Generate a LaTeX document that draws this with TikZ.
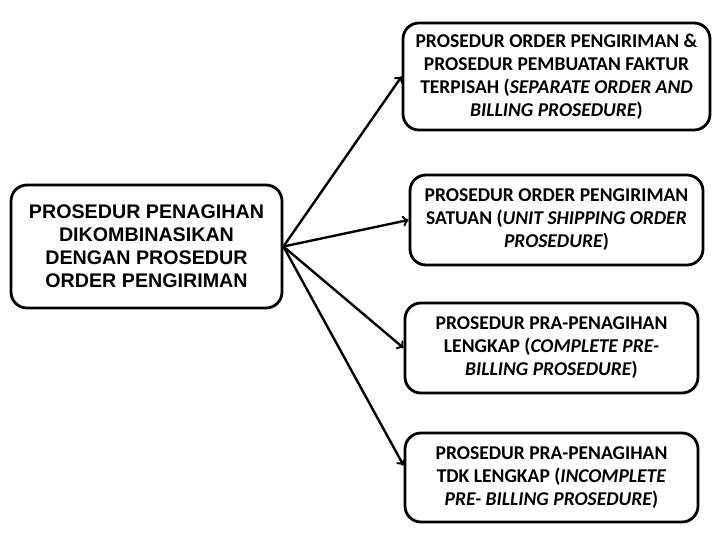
\documentclass[tikz,border=0pt]{standalone}
\usepackage{fontspec}
\setmainfont{Carlito}
\newfontfamily\arialfont{Liberation Sans}
\usetikzlibrary{positioning,arrows}

\tikzset{
	procbox/.style={draw, line width=2pt, rounded corners=0.4cm, align=center,
		inner sep=0pt, font=\bfseries\fontsize{13.9}{16.4}\selectfont},
	link/.style={line width=1.7pt, ->}
}

\begin{document}
\begin{tikzpicture}
			%\draw[help lines] (0, 0) grid (18, -13.5);
			\useasboundingbox (0,0) rectangle (18,-13.5);

			\node[procbox, minimum width=6.775cm, minimum height=3.075cm,
				font=\arialfont\bfseries\fontsize{14}{16.4}\selectfont] (main) at (3.6625,-6.1625)
				{PROSEDUR PENAGIHAN\\DIKOMBINASIKAN\\DENGAN PROSEDUR\\ORDER PENGIRIMAN};

			\node[procbox, minimum width=7.675cm, minimum height=2.675cm] (separate) at (13.9125,-1.9125)
				{PROSEDUR ORDER PENGIRIMAN \&\\PROSEDUR PEMBUATAN FAKTUR\\TERPISAH (\textit{SEPARATE ORDER AND}\\\textit{BILLING PROSEDURE})};
			\node[procbox, minimum width=7.325cm, minimum height=2.25cm] (unit) at (13.9125,-5.5)
				{PROSEDUR ORDER PENGIRIMAN\\SATUAN (\textit{UNIT SHIPPING ORDER}\\\textit{PROSEDURE})};
			\node[procbox, minimum width=7.325cm, minimum height=2.25cm] (complete) at (13.7875,-8.7)
				{PROSEDUR PRA-PENAGIHAN\\LENGKAP (\textit{COMPLETE PRE-}\\\textit{BILLING PROSEDURE})};
			\node[procbox, minimum width=7.325cm, minimum height=2.225cm] (incomplete) at (13.7875,-11.9375)
				{PROSEDUR PRA-PENAGIHAN\\TDK LENGKAP (\textit{INCOMPLETE}\\\textit{PRE- BILLING PROSEDURE})};

			\draw[link] (main.east) -- (separate.west);
			\draw[link] (main.east) -- (unit.west);
			\draw[link] (main.east) -- (complete.west);
			\draw[link] (main.east) -- ([yshift=0.3cm]incomplete.west);
		\end{tikzpicture}
\end{document}
